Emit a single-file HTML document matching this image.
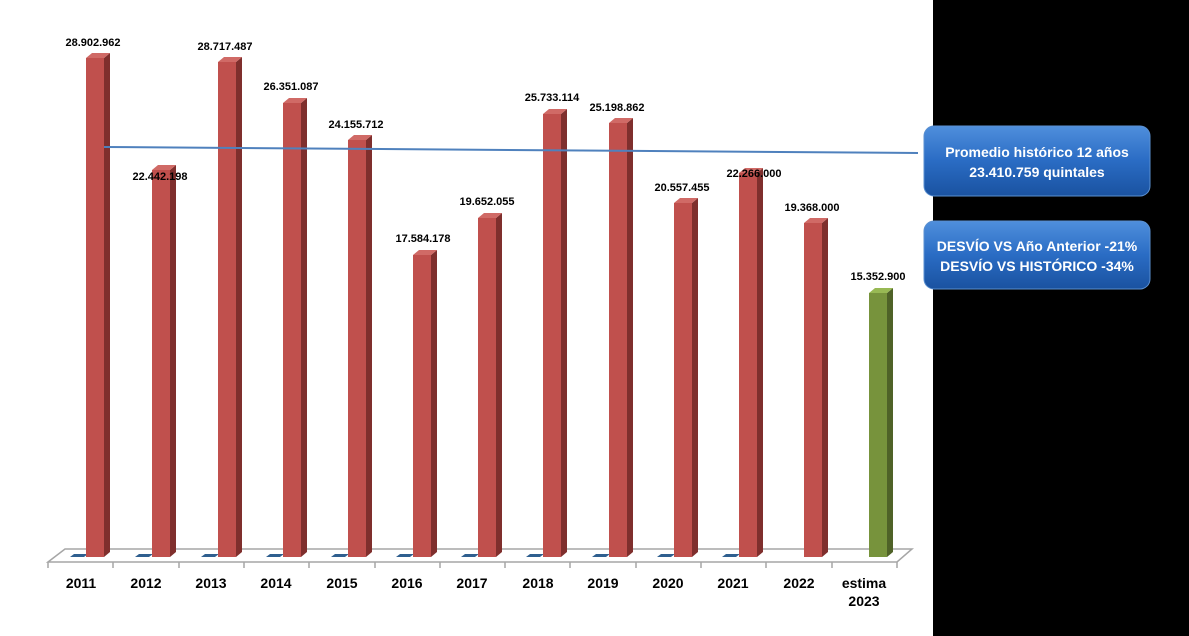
<!DOCTYPE html>
<html><head><meta charset="utf-8"><style>
html,body{margin:0;padding:0;background:#fff}
svg{display:block}
text{font-family:"Liberation Sans",sans-serif;font-weight:bold;fill:#000}
</style></head><body>
<svg width="1189" height="636" viewBox="0 0 1189 636" xmlns="http://www.w3.org/2000/svg">
<defs>
<linearGradient id="bx" x1="0" y1="0" x2="0" y2="1">
<stop offset="0" stop-color="#4f8fdc"/><stop offset="0.5" stop-color="#2a6cc4"/><stop offset="1" stop-color="#1a52a0"/>
</linearGradient>
</defs>
<rect x="933" y="0" width="256" height="636" fill="#000"/>
<!-- floor -->
<polygon points="48,562 65,549 912,549 897,562" fill="#fff" stroke="#a6a6a6" stroke-width="1.5"/>
<line x1="48" y1="562" x2="48" y2="568" stroke="#a6a6a6" stroke-width="1.5"/>
<g stroke="#a6a6a6" stroke-width="1.5">
<line x1="113" y1="562" x2="113" y2="568"/><line x1="179" y1="562" x2="179" y2="568"/><line x1="244" y1="562" x2="244" y2="568"/><line x1="309" y1="562" x2="309" y2="568"/><line x1="375" y1="562" x2="375" y2="568"/><line x1="440" y1="562" x2="440" y2="568"/><line x1="505" y1="562" x2="505" y2="568"/><line x1="570" y1="562" x2="570" y2="568"/><line x1="636" y1="562" x2="636" y2="568"/><line x1="701" y1="562" x2="701" y2="568"/><line x1="766" y1="562" x2="766" y2="568"/><line x1="832" y1="562" x2="832" y2="568"/><line x1="897" y1="562" x2="897" y2="568"/>
</g>
<!-- blue zero markers -->
<g fill="#2f5f8f">
<polygon points="70,557 74,554 88,554 84,557"/><polygon points="135,557 139,554 153,554 149,557"/><polygon points="201,557 205,554 219,554 215,557"/><polygon points="266,557 270,554 284,554 280,557"/><polygon points="331,557 335,554 349,554 345,557"/><polygon points="396,557 400,554 414,554 410,557"/><polygon points="461,557 465,554 479,554 475,557"/><polygon points="526,557 530,554 544,554 540,557"/><polygon points="592,557 596,554 610,554 606,557"/><polygon points="657,557 661,554 675,554 671,557"/><polygon points="722,557 726,554 740,554 736,557"/>
</g>
<!-- bars -->
<g id="bars"></g>
<!-- avg line -->
<line x1="104" y1="147" x2="918" y2="153" stroke="#4f81bd" stroke-width="2"/>
<!-- value labels -->
<g font-size="11" text-anchor="middle">
<text x="93" y="46">28.902.962</text>
<text x="160" y="180">22.442.198</text>
<text x="225" y="50">28.717.487</text>
<text x="291" y="90">26.351.087</text>
<text x="356" y="128">24.155.712</text>
<text x="423" y="242">17.584.178</text>
<text x="487" y="205">19.652.055</text>
<text x="552" y="101">25.733.114</text>
<text x="617" y="111">25.198.862</text>
<text x="682" y="191">20.557.455</text>
<text x="754" y="177">22.266.000</text>
<text x="812" y="211">19.368.000</text>
<text x="878" y="280">15.352.900</text>
</g>
<!-- year labels -->
<g font-size="14" text-anchor="middle">
<text x="81" y="588">2011</text><text x="146" y="588">2012</text><text x="211" y="588">2013</text><text x="276" y="588">2014</text><text x="342" y="588">2015</text><text x="407" y="588">2016</text><text x="472" y="588">2017</text><text x="538" y="588">2018</text><text x="603" y="588">2019</text><text x="668" y="588">2020</text><text x="733" y="588">2021</text><text x="799" y="588">2022</text><text x="864" y="588">estima</text><text x="864" y="606">2023</text>
</g>
<!-- boxes -->
<rect x="924" y="126" width="226" height="70" rx="10" fill="url(#bx)" stroke="#5a8fd0" stroke-width="1"/>
<rect x="924" y="221" width="226" height="68" rx="10" fill="url(#bx)" stroke="#5a8fd0" stroke-width="1"/>
<g font-size="14" text-anchor="middle" style="fill:#fff">
<text x="1037" y="157" style="fill:#fff">Promedio  histórico 12 años</text>
<text x="1037" y="177" style="fill:#fff">23.410.759 quintales</text>
<text x="1037" y="251" style="fill:#fff">DESVÍO VS Año Anterior -21%</text>
<text x="1037" y="271" style="fill:#fff">DESVÍO VS HISTÓRICO  -34%</text>
</g>
</svg>
<script>
var xs=[86,152,218,283,348,413,478,543,609,674,739,804,869];
var tops=[58,170,62,103,140,255,218,114,123,203,173,223,293];
var g=document.getElementById('bars'),s='';
for(var i=0;i<13;i++){var x=xs[i],t=tops[i],b=557;
var f=i==12?'#77933c':'#c0504d',sd=i==12?'#4f6228':'#7f2f2d',tp=i==12?'#98b954':'#d06a66';
s+='<rect x="'+x+'" y="'+t+'" width="18" height="'+(b-t)+'" fill="'+f+'"/>';
s+='<polygon points="'+(x+18)+','+t+' '+(x+24)+','+(t-5)+' '+(x+24)+','+(b-5)+' '+(x+18)+','+b+'" fill="'+sd+'"/>';
s+='<polygon points="'+x+','+t+' '+(x+6)+','+(t-5)+' '+(x+24)+','+(t-5)+' '+(x+18)+','+t+'" fill="'+tp+'"/>';}
g.innerHTML=s;
</script>
</body></html>
